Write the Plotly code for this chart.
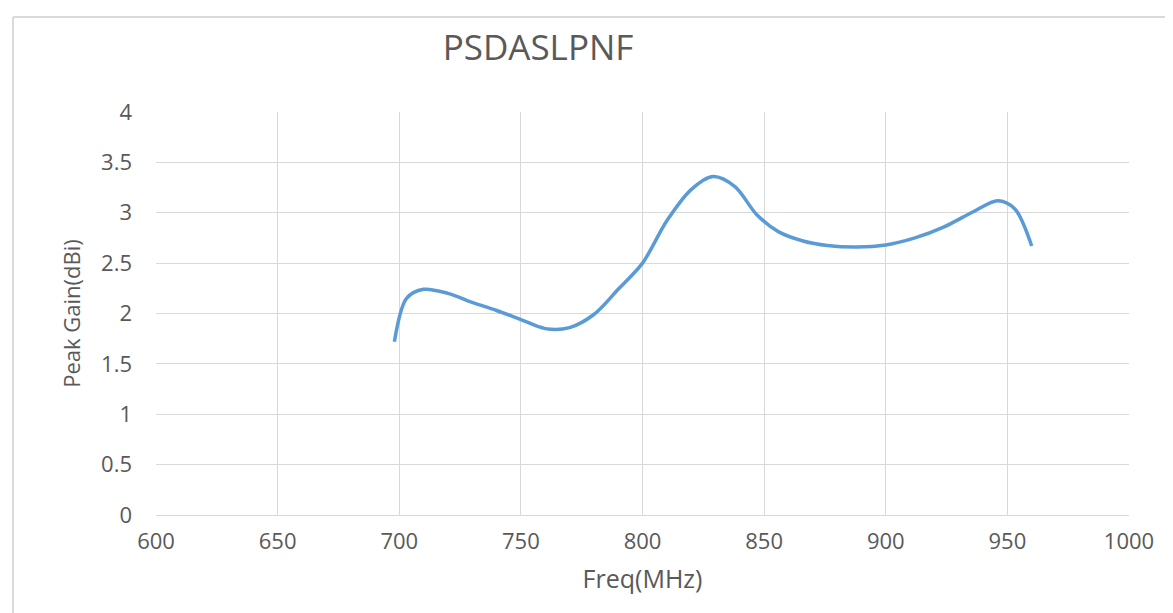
import plotly.graph_objects as go

freq_mhz = [698, 703, 710, 720, 730, 740, 750, 760, 770, 780, 790, 800, 810,
            820, 829, 838, 847, 856, 866, 876, 888, 900, 912, 924, 936, 946,
            953, 960]
peak_gain_dbi = [1.72, 2.15, 2.24, 2.20, 2.11, 2.03, 1.94, 1.85, 1.86, 1.99,
                 2.24, 2.50, 2.92, 3.23, 3.36, 3.26, 2.98, 2.81, 2.72, 2.675,
                 2.66, 2.68, 2.75, 2.86, 3.01, 3.12, 3.04, 2.67]

x_ticks = [600, 650, 700, 750, 800, 850, 900, 950, 1000]
y_ticks = [0, 0.5, 1, 1.5, 2, 2.5, 3, 3.5, 4]
y_tick_labels = ["0", "0.5", "1", "1.5", "2", "2.5", "3", "3.5", "4"]

title_text = "PSDASLPNF"
x_title = "Freq(MHz)"
y_title = "Peak Gain(dBi)"

FONT = "Open Sans"
TXT = "#595959"
GRID = "#D9D9D9"

fig = go.Figure()
fig.add_trace(go.Scatter(
    x=freq_mhz, y=peak_gain_dbi, mode="lines",
    line=dict(color="#5B9BD5", width=3.5, shape="spline", smoothing=0.9),
    showlegend=False, hoverinfo="x+y",
))

fig.update_layout(
    width=1173, height=613,
    margin=dict(l=148, r=52, t=104, b=106, autoexpand=False),
    paper_bgcolor="white", plot_bgcolor="white",
    font=dict(family=FONT, color=TXT),
    title=dict(text=title_text, x=530 / 1173, xanchor="center",
               y=1 - 40 / 613, yanchor="middle",
               font=dict(family=FONT, size=35, color=TXT)),
    xaxis=dict(range=[600, 1000], tickmode="array", tickvals=x_ticks,
               ticks="", showgrid=True, gridcolor=GRID, gridwidth=1,
               zeroline=False, showline=True, linecolor=GRID, linewidth=1,
               mirror=False, tickfont=dict(size=22, color=TXT),
               ticklabelstandoff=7,
               title=dict(text=x_title, font=dict(size=25, color=TXT), standoff=16)),
    yaxis=dict(range=[0, 4], tickmode="array", tickvals=y_ticks,
               ticktext=y_tick_labels, ticks="", showgrid=True, gridcolor=GRID,
               gridwidth=1, zeroline=False, showline=False,
               tickfont=dict(size=22, color=TXT), ticklabelstandoff=23,
               title=dict(text=y_title, font=dict(size=22, color=TXT), standoff=14)),
)

# outer chart frame (top and left edges visible in the picture)
fig.add_shape(type="line", xref="paper", yref="paper",
              x0=(5 - 148) / 973, x1=(1180 - 148) / 973,
              y0=(507 - 9) / 403, y1=(507 - 9) / 403,
              line=dict(color="#D9D9D9", width=2), layer="below")
fig.add_shape(type="line", xref="paper", yref="paper",
              x0=(5 - 148) / 973, x1=(5 - 148) / 973,
              y0=(507 - 9) / 403, y1=(507 - 620) / 403,
              line=dict(color="#D9D9D9", width=2), layer="below")

fig.write_html("out.html")
